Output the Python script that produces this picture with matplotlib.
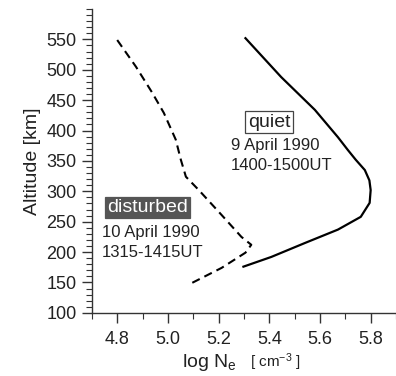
import matplotlib
matplotlib.use('Agg')
import matplotlib.pyplot as plt
from matplotlib.ticker import MultipleLocator

plt.rcParams['font.family'] = ['Liberation Sans', 'DejaVu Sans']
plt.rcParams['mathtext.fontset'] = 'custom'
plt.rcParams['mathtext.rm'] = 'Liberation Sans'
plt.rcParams['mathtext.it'] = 'Liberation Sans'

# disturbed profile, 10 April 1990 (log Ne, altitude km)
dist_ne = [4.80, 4.874, 4.937, 4.984, 5.031, 5.051, 5.071, 5.122, 5.212, 5.290, 5.329, 5.306, 5.212, 5.094]
dist_alt = [549, 505, 463, 429, 385, 352, 324, 302, 261, 225, 212, 199, 174, 149]

# quiet profile, 9 April 1990
quiet_ne = [5.306, 5.447, 5.580, 5.671, 5.710, 5.741, 5.777, 5.795, 5.800, 5.796, 5.761, 5.671, 5.541, 5.408, 5.298]
quiet_alt = [552, 488, 434, 389, 368, 352, 335, 318, 302, 281, 258, 237, 215, 192, 176]

fig = plt.figure(figsize=(3.96, 3.76), dpi=100)
ax = fig.add_axes([0.232, 0.168, 0.768, 0.808])

ax.plot(dist_ne, dist_alt, color='black', lw=1.5, ls=(0, (4, 2.5)))
ax.plot(quiet_ne, quiet_alt, color='black', lw=1.6)

ax.set_xlim(4.7, 5.9)
ax.set_ylim(100, 600)
ax.xaxis.set_minor_locator(MultipleLocator(0.1))
ax.yaxis.set_minor_locator(MultipleLocator(10))
ax.set_yticks(range(100, 551, 50))
ax.set_xticks([4.8, 5.0, 5.2, 5.4, 5.6, 5.8])
ax.set_xticklabels(['4.8', '5.0', '5.2', '5.4', '5.6', '5.8'])

for s in ['top', 'right']:
    ax.spines[s].set_visible(False)
for s in ['left', 'bottom']:
    ax.spines[s].set_color('#333333')
    ax.spines[s].set_linewidth(1.0)
ax.tick_params(which='major', length=7, width=1, color='#333333', labelsize=13, labelcolor='#222222')
ax.tick_params(which='minor', length=4, width=0.8, color='#333333')
ax.tick_params(axis='x', which='major', pad=6)
ax.tick_params(axis='y', which='major', pad=4)

ax.set_ylabel('Altitude [km]', fontsize=14, color='#222222', labelpad=4)
fig.text(0.598, 0.024, r'log N$_\mathrm{e}$', fontsize=14, ha='right', va='baseline', color='#222222')
fig.text(0.632, 0.024, r'[ cm$^{-3}$ ]', fontsize=11, ha='left', va='baseline', color='#222222')

ax.text(5.40, 414, 'quiet', fontsize=14, ha='center', va='center', color='#222222',
        bbox=dict(boxstyle='square,pad=0.15', fc='white', ec='#444444', lw=0.9))
ax.text(5.247, 375, '9 April 1990', fontsize=12, ha='left', va='center', color='#222222')
ax.text(5.247, 342, '1400-1500UT', fontsize=12, ha='left', va='center', color='#222222')

ax.text(4.918, 273, 'disturbed', fontsize=14, ha='center', va='center', color='white',
        bbox=dict(boxstyle='square,pad=0.1', fc='#555555', ec='#555555', lw=0.9))
ax.text(4.74, 232, '10 April 1990', fontsize=12, ha='left', va='center', color='#222222')
ax.text(4.74, 200, '1315-1415UT', fontsize=12, ha='left', va='center', color='#222222')

fig.savefig('out.png', dpi=100)
